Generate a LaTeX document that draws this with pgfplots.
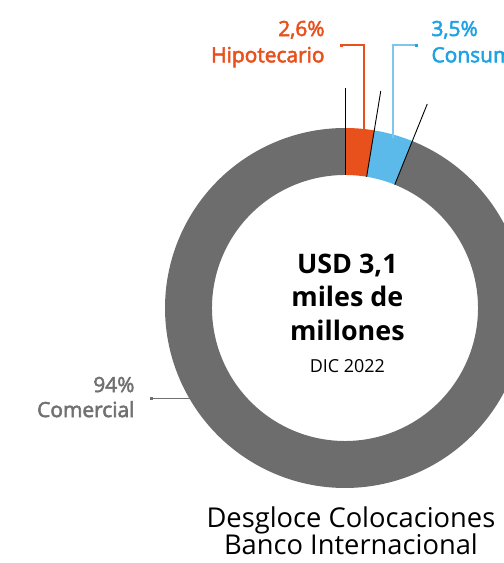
\documentclass[border=0pt]{standalone}
\usepackage{pgfplots}
\pgfplotsset{compat=1.18}
\usepgfplotslibrary{fillbetween}
\usepackage{fontspec}
\setmainfont{Open Sans}
\newfontfamily\medfont{Open Sans}[FakeBold=2.5]
\definecolor{cOr}{HTML}{E8501C}
\definecolor{cBl}{HTML}{5BBAEA}
\definecolor{cBlT}{HTML}{1FA2E2}
\definecolor{cBlL}{HTML}{7DC6EE}
\definecolor{cGr}{HTML}{6D6D6D}
\definecolor{cGrT}{HTML}{707070}
% data (percent)
\def\hip{2.6}
\def\con{3.5}
\def\com{93.9}
\pgfmathsetmacro{\aA}{90}
\pgfmathsetmacro{\aB}{90-3.6*\hip}
\pgfmathsetmacro{\aC}{\aB-3.6*\con}
\pgfmathsetmacro{\aD}{\aC-3.6*\com}
\def\Ri{0.739}
\def\Rl{1.222}
\begin{document}
\begin{tikzpicture}
\begin{axis}[hide axis, x=180bp, y=180bp,
  xmin=-1.91667, xmax=0.88333, ymin=-1.41667, ymax=1.71111,
  anchor=south west, at={(0,0)}, clip=false, trig format plots=deg]
% Hipotecario
\addplot[draw=none, name path=o1, domain=\aB:\aA, samples=30] ({cos(x)},{sin(x)});
\addplot[draw=none, name path=i1, domain=\aB:\aA, samples=30] ({\Ri*cos(x)},{\Ri*sin(x)});
\addplot[cOr] fill between[of=o1 and i1];
% Consumo
\addplot[draw=none, name path=o2, domain=\aC:\aB, samples=30] ({cos(x)},{sin(x)});
\addplot[draw=none, name path=i2, domain=\aC:\aB, samples=30] ({\Ri*cos(x)},{\Ri*sin(x)});
\addplot[cBl] fill between[of=o2 and i2];
% Comercial
\addplot[draw=none, name path=o3, domain=\aD:\aC, samples=240] ({cos(x)},{sin(x)});
\addplot[draw=none, name path=i3, domain=\aD:\aC, samples=240] ({\Ri*cos(x)},{\Ri*sin(x)});
\addplot[cGr] fill between[of=o3 and i3];
% separators
\addplot[black, line width=0.9bp, domain=\Ri:\Rl, samples=2] ({x*cos(\aA)},{x*sin(\aA)});
\addplot[black, line width=0.9bp, domain=\Ri:\Rl, samples=2] ({x*cos(\aB)},{x*sin(\aB)});
\addplot[black, line width=0.9bp, domain=\Ri:\Rl, samples=2] ({x*cos(\aC)},{x*sin(\aC)});
% leaders
\addplot[cOr, line width=1.1bp] coordinates {(0.1056,0.99) (0.1056,1.461) (-0.022,1.461)};
\addplot[cOr, only marks, mark=square*, mark size=1.2bp] coordinates {(-0.022,1.461)};
\addplot[cBlL, line width=1.1bp] coordinates {(0.2667,0.944) (0.2667,1.461) (0.394,1.461)};
\addplot[cBlT, only marks, mark=square*, mark size=1.2bp] coordinates {(0.394,1.461)};
\addplot[cGrT, line width=0.9bp] coordinates {(-1.078,-0.5) (-0.861,-0.5)};
\addplot[cGrT, only marks, mark=square*, mark size=1bp] coordinates {(-1.078,-0.5)};
% labels
\node[anchor=base east, text=cOr, font=\medfont\fontsize{21}{25}\selectfont] at (axis cs:-0.094,1.511) {2,6\%};
\node[anchor=base east, text=cOr, font=\medfont\fontsize{21}{25}\selectfont] at (axis cs:-0.094,1.365) {Hipotecario};
\node[anchor=base west, text=cBlT, font=\medfont\fontsize{21}{25}\selectfont] at (axis cs:0.461,1.511) {3,5\%};
\node[anchor=base west, text=cBlT, font=\medfont\fontsize{21}{25}\selectfont] at (axis cs:0.461,1.365) {Consumo};
\node[anchor=base east, text=cGrT, font=\medfont\fontsize{21}{25}\selectfont] at (axis cs:-1.15,-0.467) {94\%};
\node[anchor=base east, text=cGrT, font=\medfont\fontsize{21}{25}\selectfont] at (axis cs:-1.15,-0.606) {Comercial};
% center
\node[anchor=base, font=\fontsize{27}{32}\selectfont\bfseries] at (axis cs:0.013,0.194) {USD 3,1};
\node[anchor=base, font=\fontsize{27}{32}\selectfont\bfseries] at (axis cs:0.013,0.006) {miles de};
\node[anchor=base, font=\fontsize{27}{32}\selectfont\bfseries] at (axis cs:0.013,-0.178) {millones};
\node[anchor=base, font=\fontsize{18}{22}\selectfont] at (axis cs:0.013,-0.361) {DIC 2022};
% title
\node[anchor=base, font=\fontsize{27.4}{32}\selectfont] at (axis cs:0.033,-1.217) {Desgloce Colocaciones};
\node[anchor=base, font=\fontsize{27.4}{32}\selectfont] at (axis cs:0.033,-1.372) {Banco Internacional};
\end{axis}
\pgfresetboundingbox
\useasboundingbox (0,0) rectangle (504bp,563bp);
\end{tikzpicture}
\end{document}
